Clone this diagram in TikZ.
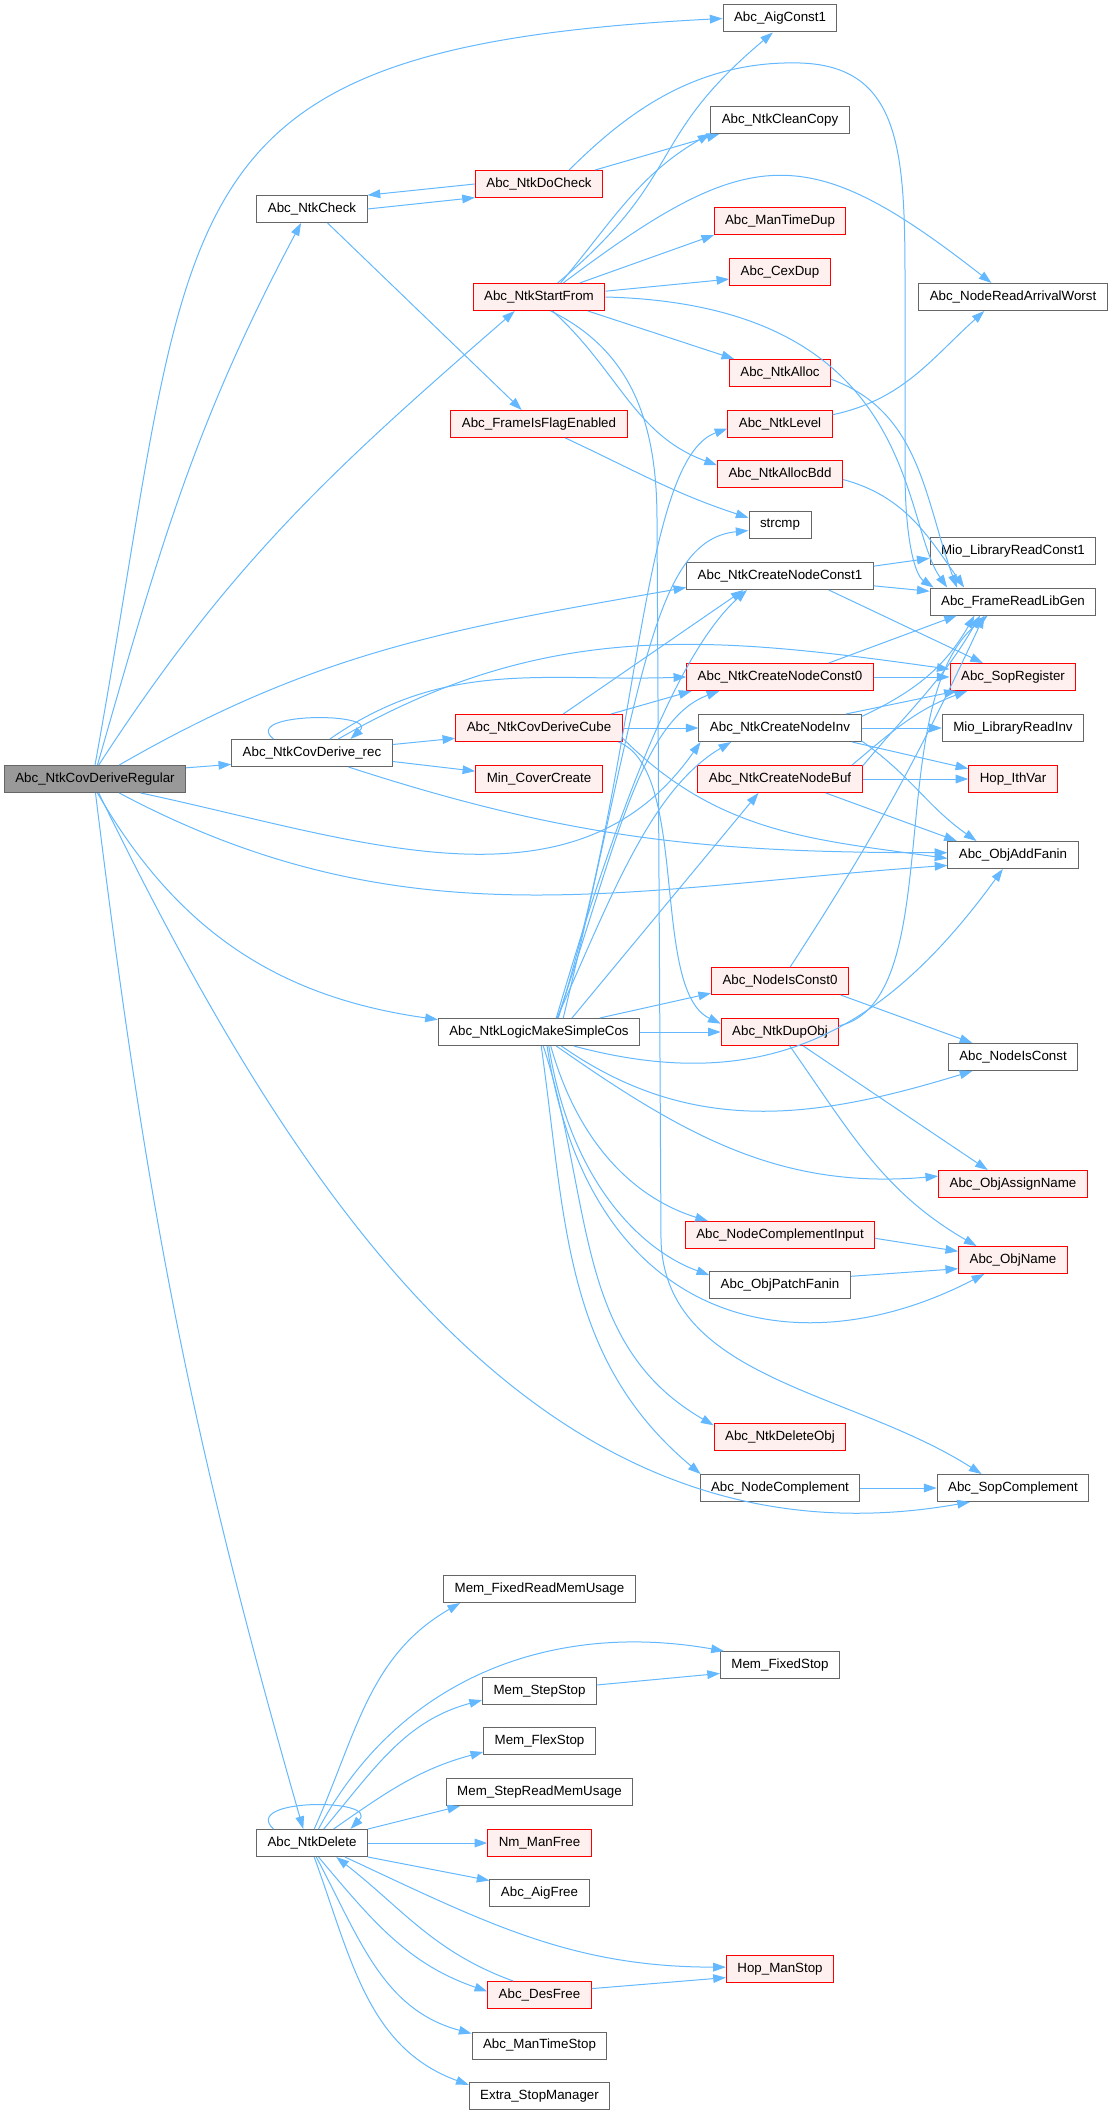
\documentclass[tikz,border=0pt]{standalone}
\usepackage{fontspec}
\setmainfont{Liberation Sans}
\usetikzlibrary{arrows.meta}
\definecolor{edgeblue}{HTML}{63B8FF}
\definecolor{boxgray}{HTML}{666666}
\definecolor{boxred}{HTML}{FF0000}
\definecolor{fillred}{HTML}{FFF0F0}
\definecolor{fillmain}{HTML}{999999}
\begin{document}
\begin{tikzpicture}[x=0.75pt,y=0.75pt,
  fn/.style={draw=boxgray,fill=white,line width=0.75pt,inner xsep=8.25pt,inner ysep=0pt,minimum height=20.25pt,font=\fontsize{10}{12}\selectfont},
  fnred/.style={fn,draw=boxred,fill=fillred},
  fnmain/.style={fn,fill=fillmain},
  call/.style={edgeblue,line width=0.75pt,-{Triangle[length=9.5pt,width=6.5pt]}}]
  \useasboundingbox (0,0) rectangle (1110,-2115);
  \node[fnmain] (reg) at (95,-779) {Abc\_NtkCovDeriveRegular};
  \node[fn] (chk) at (312,-209) {Abc\_NtkCheck};
  \node[fn] (rec) at (312,-753) {Abc\_NtkCovDerive\_rec};
  \node[fn] (del) at (312,-1843) {Abc\_NtkDelete};
  \node[fnred] (docheck) at (539,-184) {Abc\_NtkDoCheck};
  \node[fnred] (start) at (539,-297) {Abc\_NtkStartFrom};
  \node[fnred] (flag) at (539,-424) {Abc\_FrameIsFlagEnabled};
  \node[fnred] (cube) at (539,-728) {Abc\_NtkCovDeriveCube};
  \node[fnred] (mincov) at (539,-779) {Min\_CoverCreate};
  \node[fn] (simple) at (539,-1032) {Abc\_NtkLogicMakeSimpleCos};
  \node[fn] (fixmem) at (539.5,-1589) {Mem\_FixedReadMemUsage};
  \node[fn] (stepstop) at (539.5,-1691) {Mem\_StepStop};
  \node[fn] (flexstop) at (539.5,-1741) {Mem\_FlexStop};
  \node[fn] (stepmem) at (539.5,-1792) {Mem\_StepReadMemUsage};
  \node[fnred] (nmfree) at (539.5,-1843) {Nm\_ManFree};
  \node[fn] (aigfree) at (539.5,-1893) {Abc\_AigFree};
  \node[fnred] (desfree) at (539.5,-1995) {Abc\_DesFree};
  \node[fn] (timestop) at (539.5,-2045.5) {Abc\_ManTimeStop};
  \node[fn] (extra) at (539.5,-2096) {Extra\_StopManager};
  \node[fn] (aigc1) at (780,-18.5) {Abc\_AigConst1};
  \node[fn] (clean) at (780,-120) {Abc\_NtkCleanCopy};
  \node[fnred] (mtdup) at (780,-221) {Abc\_ManTimeDup};
  \node[fnred] (cex) at (780,-272) {Abc\_CexDup};
  \node[fnred] (alloc) at (780,-373) {Abc\_NtkAlloc};
  \node[fnred] (level) at (780,-424) {Abc\_NtkLevel};
  \node[fnred] (bdd) at (780,-474) {Abc\_NtkAllocBdd};
  \node[fn] (strcmp) at (780,-525) {strcmp};
  \node[fn] (const1) at (780,-576) {Abc\_NtkCreateNodeConst1};
  \node[fnred] (const0) at (780,-677) {Abc\_NtkCreateNodeConst0};
  \node[fn] (inv) at (780,-728) {Abc\_NtkCreateNodeInv};
  \node[fnred] (buf) at (780,-779) {Abc\_NtkCreateNodeBuf};
  \node[fnred] (isconst0) at (780,-981) {Abc\_NodeIsConst0};
  \node[fnred] (dupobj) at (780,-1032) {Abc\_NtkDupObj};
  \node[fnred] (compin) at (780,-1235) {Abc\_NodeComplementInput};
  \node[fn] (patch) at (780,-1285) {Abc\_ObjPatchFanin};
  \node[fnred] (delobj) at (780,-1437) {Abc\_NtkDeleteObj};
  \node[fn] (ncomp) at (780,-1488) {Abc\_NodeComplement};
  \node[fn] (fixstop) at (780,-1665) {Mem\_FixedStop};
  \node[fnred] (hopstop) at (780,-1969) {Hop\_ManStop};
  \node[fn] (arrw) at (1013,-297) {Abc\_NodeReadArrivalWorst};
  \node[fn] (mioc1) at (1013,-551) {Mio\_LibraryReadConst1};
  \node[fn] (libgen) at (1013,-601.5) {Abc\_FrameReadLibGen};
  \node[fnred] (sopreg) at (1013,-677) {Abc\_SopRegister};
  \node[fn] (mioinv) at (1013,-728) {Mio\_LibraryReadInv};
  \node[fnred] (ithvar) at (1013,-779) {Hop\_IthVar};
  \node[fn] (addfanin) at (1013,-855) {Abc\_ObjAddFanin};
  \node[fn] (isconst) at (1013,-1057) {Abc\_NodeIsConst};
  \node[fnred] (assign) at (1013,-1184) {Abc\_ObjAssignName};
  \node[fnred] (objname) at (1013,-1260) {Abc\_ObjName};
  \node[fn] (sopcomp) at (1013,-1488) {Abc\_SopComplement};

  \draw[call] (reg.north) .. controls (198,-198) and (147,-48) .. (aigc1.west);
  \draw[call] (reg.80) to[out=74,in=242] (chk.-128);
  \draw[call] (reg.75) to[out=57,in=221] (start.-150);
  \draw[call] (reg.7) -- (rec.188);
  \draw[call] (reg.30) to[out=30,in=190] (const1.187);
  \draw[call] (reg.-17) to[out=-12,in=235] (inv.190);
  \draw[call] (reg.-30) to[out=-28,in=184] (addfanin.189);
  \draw[call] (reg.-80) to[out=-60,in=172] (simple.173);
  \draw[call] (reg.-88) to[out=-83,in=106] (del.122);
  \draw[call] (reg.-75) to[out=-64,in=190] (sopcomp.198);

  \draw[call] (start.37) to[out=40,in=220,looseness=1.3] (aigc1.-117);
  \draw[call] (start.33) to[out=50,in=210] (clean.191);
  \draw[call] (start.30) to[out=37,in=142,looseness=1.4] (arrw.147);
  \draw[call] (start.19) -- (mtdup.192);
  \draw[call] (start.5) -- (cex.188);
  \draw[call] (start.0) .. controls (920,-305) and (900,-520) .. (libgen.168);
  \draw[call] (start.-16) -- (alloc.163);
  \draw[call] (start.-46) to[out=-42,in=160] (bdd.172);
  \draw[call] (start.-50) .. controls (630,-350) and (657,-420) .. (657,-520) -- (661,-1240) .. controls (665,-1380) and (850,-1390) .. (sopcomp.156);

  \draw[call] (docheck.west) -- (chk.14);
  \draw[call] (chk.east) -- (docheck.192);
  \draw[call] (chk.-42) -- (flag.141);
  \draw[call] (docheck.14) -- (clean.193);
  \draw[call] (docheck.25) .. controls (620,-120) and (690,-60) .. (800,-63) .. controls (900,-66) and (905,-150) .. (905,-280) -- (905,-470) .. controls (905,-540) and (915,-575) .. (libgen.170);
  \draw[call] (flag.-28) to[out=-25,in=162] (strcmp.167);
  \draw[call] (alloc.-7) to[out=-20,in=110] (libgen.166);
  \draw[call] (bdd.-5) to[out=-15,in=125] (libgen.164);
  \draw[call] (level.10) to[out=12,in=222] (arrw.-154);

  \draw[call] (const1.6) -- (mioc1.185);
  \draw[call] (const1.-6) -- (libgen.173);
  \draw[call] (const1.-16) -- (sopreg.155);
  \draw[call] (const0.east) -- (sopreg.west);
  \draw[call] (const0.16) -- (libgen.194);
  \draw[call] (inv.east) -- (mioinv.west);
  \draw[call] (inv.-11) -- (ithvar.167);
  \draw[call] (inv.-9) to[out=-35,in=145] (addfanin.159);
  \draw[call] (inv.12) -- (sopreg.194);
  \draw[call] (inv.8) to[out=25,in=240] (libgen.200);
  \draw[call] (buf.east) -- (ithvar.west);
  \draw[call] (buf.-17) -- (addfanin.166);
  \draw[call] (buf.11) to[out=40,in=200] (sopreg.197);
  \draw[call] (buf.9) to[out=50,in=240] (libgen.203);
  \draw[call] (isconst0.-13.5) -- (isconst.161);
  \draw[call] (isconst0.54) to[out=57,in=245] (libgen.206);
  \draw[call] (dupobj.6) .. controls (950,-1000) and (880,-700) .. (libgen.209);
  \draw[call] (dupobj.-31) -- (assign.151);
  \draw[call] (dupobj.-55) to[out=-55,in=150] (objname.159);
  \draw[call] (compin.-2) -- (objname.171);
  \draw[call] (patch.7) -- (objname.189);
  \draw[call] (ncomp.east) -- (sopcomp.west);

  \draw[call] (rec.160) .. controls (240,-712) and (380,-712) .. (rec.20);
  \draw[call] (rec.6) -- (cube.187);
  \draw[call] (rec.-6) -- (mincov.173);
  \draw[call] (rec.38) to[out=35,in=182] (const0.west);
  \draw[call] (rec.28) to[out=30,in=172] (sopreg.173);
  \draw[call] (rec.-21) to[out=-18,in=180] (addfanin.178);

  \draw[call] (cube.east) -- (inv.west);
  \draw[call] (cube.11) -- (const0.189);
  \draw[call] (cube.30) -- (const1.201);
  \draw[call] (cube.-7) to[out=-45,in=172] (addfanin.183);
  \draw[call] (cube.-10) .. controls (690,-770) and (650,-990) .. (dupobj.172);

  \draw[call] (simple.30) .. controls (640,-700) and (650,-540) .. (strcmp.190);
  \draw[call] (simple.36) .. controls (640,-760) and (640,-460) .. (level.185);
  \draw[call] (simple.39) .. controls (620,-800) and (680,-650) .. (const1.203);
  \draw[call] (simple.37) .. controls (615,-850) and (640,-720) .. (const0.193);
  \draw[call] (simple.38) .. controls (610,-900) and (650,-790) .. (inv.196);
  \draw[call] (simple.23) -- (buf.213);
  \draw[call] (simple.13) -- (isconst0.190);
  \draw[call] (simple.east) -- (dupobj.west);
  \draw[call] (simple.-22) to[out=-15,in=-126,looseness=1.1] (addfanin.-126);
  \draw[call] (simple.-32) to[out=-35,in=197] (isconst.199);
  \draw[call] (simple.-39) to[out=-35,in=185] (assign.174);
  \draw[call] (simple.-50) .. controls (580,-1150) and (640,-1200) .. (compin.169);
  \draw[call] (simple.-55) .. controls (570,-1180) and (640,-1250) .. (patch.172);
  \draw[call] (simple.-60) .. controls (590,-1330) and (800,-1370) .. (objname.206);
  \draw[call] (simple.-73) to[out=-72,in=150] (delobj.170);
  \draw[call] (simple.-81) to[out=-82,in=140] (ncomp.170);

  \draw[call] (del.160) .. controls (240,-1798) and (380,-1798) .. (del.20);
  \draw[call] (del.81) to[out=66,in=210] (fixmem.190);
  \draw[call] (del.65) to[out=62,in=170] (fixstop.166);
  \draw[call] (del.50) to[out=50,in=195] (stepstop.189);
  \draw[call] (del.33) to[out=35,in=195] (flexstop.191);
  \draw[call] (del.north east) -- (stepmem.190);
  \draw[call] (del.east) -- (nmfree.west);
  \draw[call] (del.south east) -- (aigfree.166);
  \draw[call] (del.-23) to[out=-25,in=180] (hopstop.178);
  \draw[call] (del.-65) to[out=-50,in=161] (desfree.176);
  \draw[call] (desfree.152) to[out=160,in=-38] (del.-30);
  \draw[call] (del.-73) to[out=-62,in=165] (timestop.170);
  \draw[call] (del.-81) to[out=-70,in=160] (extra.171);
  \draw[call] (desfree.7) -- (hopstop.189);
  \draw[call] (stepstop.6) -- (fixstop.188);
\end{tikzpicture}
\end{document}
